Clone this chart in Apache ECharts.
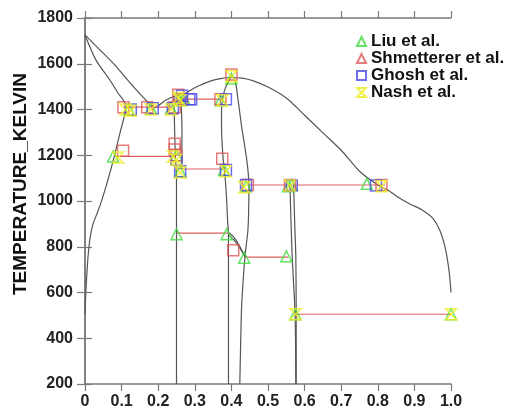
<!DOCTYPE html>
<html>
<head>
<meta charset="utf-8">
<script src="https://cdn.jsdelivr.net/npm/echarts@6/dist/echarts.min.js"></script>
<style>
  html, body { margin: 0; padding: 0; background: #fff; }
  #chart { width: 518px; height: 414px; }
</style>
</head>
<body>
<div id="chart"></div>
<script>
// Ni-Sn style phase diagram: calculated boundaries + experimental points

// axis ticks
const xTicks = [0, 0.1, 0.2, 0.3, 0.4, 0.5, 0.6, 0.7, 0.8, 0.9, 1.0];
const yTicks = [200, 400, 600, 800, 1000, 1200, 1400, 1600, 1800];

// phase boundaries [x, T]
const liquidusLeft = [[0, 1726], [0.04, 1662], [0.08, 1597], [0.12, 1522], [0.16, 1452], [0.19, 1408], [0.22, 1440], [0.25, 1462]];
const liquidusDome = [[0.25, 1462], [0.27, 1468], [0.30, 1495], [0.34, 1523], [0.37, 1535], [0.40, 1540], [0.43, 1537], [0.46, 1525],
  [0.50, 1498], [0.55, 1450], [0.60, 1375], [0.65, 1298], [0.70, 1222], [0.75, 1130], [0.80, 1070], [0.83, 1045], [0.86, 1012],
  [0.89, 985], [0.92, 962], [0.95, 925], [0.97, 870], [0.985, 790], [0.995, 690], [1.0, 600]];
const solidusNi = [[0, 1726], [0.03, 1616], [0.068, 1529], [0.09, 1472], [0.105, 1440], [0.114, 1408]];
const solvusNi = [[0.114, 1408], [0.096, 1300], [0.08, 1195], [0.064, 1100], [0.046, 1004], [0.034, 950], [0.022, 900],
  [0.014, 840], [0.009, 770], [0.005, 680], [0.002, 590], [0, 505]];
const ni3snLeft = [[0.243, 1460], [0.245, 1300], [0.247, 1195], [0.25, 1100], [0.25, 200]];
const ni3snRight = [[0.262, 1460], [0.265, 1300], [0.264, 1140]];
const ni3sn2Left = [[0.40, 1545], [0.385, 1500], [0.377, 1456], [0.373, 1400], [0.373, 1325], [0.377, 1194], [0.383, 1100],
  [0.387, 1004], [0.39, 900], [0.392, 860], [0.392, 200]];
const ni3sn2Right = [[0.40, 1545], [0.41, 1529], [0.42, 1420], [0.428, 1325], [0.442, 1179], [0.448, 1070], [0.447, 950],
  [0.445, 870], [0.437, 755], [0.43, 600], [0.427, 500], [0.423, 200]];
const ni3sn2OrderA = [[0.392, 862], [0.405, 845], [0.42, 810], [0.437, 757]];
const ni3sn2OrderB = [[0.392, 852], [0.408, 828], [0.424, 792], [0.44, 752]];
const ni3sn4Left = [[0.56, 1070], [0.563, 900], [0.566, 760], [0.574, 505], [0.576, 200]];
const ni3sn4Right = [[0.57, 1070], [0.573, 900], [0.576, 760], [0.577, 505], [0.577, 200]];

// invariant lines [xStart, xEnd, T]
const tieLines = [
  [0.104, 0.243, 1410],
  [0.264, 0.377, 1445],
  [0.085, 0.247, 1195],
  [0.25, 0.383, 1140],
  [0.448, 0.82, 1070],
  [0.25, 0.392, 860],
  [0.437, 0.555, 755],
  [0.577, 1.0, 505]
];

// experimental points
const liuData = [[0.077, 1195], [0.12, 1400], [0.18, 1405], [0.235, 1405], [0.26, 1440], [0.27, 1450], [0.37, 1440], [0.40, 1535],
  [0.25, 1200], [0.26, 1130], [0.38, 1135], [0.44, 1065], [0.555, 1065], [0.565, 1070], [0.77, 1075], [0.25, 855], [0.387, 855],
  [0.435, 752], [0.55, 758], [0.575, 505], [1.0, 505]];
const shmettererData = [[0.105, 1410], [0.17, 1410], [0.245, 1410], [0.255, 1465], [0.265, 1445], [0.37, 1445], [0.40, 1553],
  [0.104, 1220], [0.245, 1250], [0.245, 1225], [0.25, 1200], [0.375, 1185], [0.445, 1070], [0.56, 1070], [0.81, 1070], [0.405, 785]];
const ghoshData = [[0.125, 1400], [0.185, 1405], [0.24, 1405], [0.265, 1460], [0.285, 1445], [0.29, 1445], [0.385, 1445],
  [0.25, 1180], [0.26, 1130], [0.385, 1135], [0.44, 1070], [0.565, 1068], [0.795, 1068]];
const nashData = [[0.11, 1400], [0.125, 1395], [0.18, 1400], [0.235, 1400], [0.255, 1450], [0.26, 1440], [0.375, 1440],
  [0.40, 1545], [0.24, 1195], [0.25, 1180], [0.26, 1125], [0.385, 1130], [0.435, 1060], [0.56, 1068], [0.81, 1065],
  [0.575, 505], [1.0, 505], [0.09, 1190]];

const FONT = '"Liberation Sans", Arial, sans-serif';
const AXIS_COLOR = '#7a7a7a';
const hourglass = 'path://M0,0L10,0L0,10L10,10Z';

const curves = [liquidusLeft, liquidusDome, solidusNi, solvusNi, ni3snLeft, ni3snRight, ni3sn2Left, ni3sn2Right,
  ni3sn2OrderA, ni3sn2OrderB, ni3sn4Left, ni3sn4Right];

const series = [];
curves.forEach(c => {
  series.push({
    type: 'line', data: c, smooth: 0.25, showSymbol: false, silent: true, z: 2,
    lineStyle: { color: '#555', width: 1.2 }
  });
});
tieLines.forEach(t => {
  series.push({
    type: 'line', data: [[t[0], t[2]], [t[1], t[2]]], showSymbol: false, silent: true, z: 3,
    lineStyle: { color: '#e06060', width: 1.2 }
  });
});

function pointSeries(name, data, symbol, color) {
  return {
    name, type: 'scatter', data, symbol, symbolSize: 11, z: 5,
    itemStyle: { color: 'rgba(255,255,255,0)', borderColor: color, borderWidth: 1.5 }
  };
}
series.push(pointSeries('Liu et al.', liuData, 'triangle', '#3ddc3d'));
series.push(pointSeries('Shmetterer et al.', shmettererData, 'rect', '#e05a5a'));
series.push(pointSeries('Ghosh et al.', ghoshData, 'rect', '#4a4ae6'));
series.push(pointSeries('Nash et al.', nashData, hourglass, '#eeee20'));

const chart = echarts.init(document.getElementById('chart'));
chart.setOption({
  animation: false,
  backgroundColor: '#fff',
  grid: { left: 85, top: 18, width: 366, height: 366 },
  graphic: [{
    type: 'text', x: 21, y: 184, rotation: Math.PI / 2,
    style: {
      text: 'TEMPERATURE_KELVIN', align: 'center', verticalAlign: 'middle',
      font: 'bold 19px ' + FONT, fill: '#111'
    }
  }],
  legend: {
    orient: 'vertical', left: 351, top: 28, itemGap: 0, itemWidth: 9, itemHeight: 9,
    textStyle: { fontFamily: FONT, fontSize: 17, fontWeight: 'bold', color: '#111' },
    data: [
      { name: 'Liu et al.', icon: 'triangle' },
      { name: 'Shmetterer et al.', icon: 'triangle' },
      { name: 'Ghosh et al.', icon: 'rect' },
      { name: 'Nash et al.', icon: hourglass }
    ]
  },
  xAxis: [{
    type: 'value', min: xTicks[0], max: xTicks[xTicks.length - 1], interval: 0.1,
    axisLine: { lineStyle: { color: AXIS_COLOR, width: 1.5 } },
    axisTick: { length: 7, lineStyle: { color: AXIS_COLOR, width: 1.2 } },
    splitLine: { show: false },
    axisLabel: {
      margin: 10, fontFamily: FONT, fontSize: 16, fontWeight: 'bold', color: '#222',
      formatter: v => (v === 0 ? '0' : v.toFixed(1))
    }
  }, {
    type: 'value', position: 'top', min: 0, max: 1, interval: 0.1,
    axisLine: { show: true, lineStyle: { color: AXIS_COLOR, width: 1.5 } },
    axisTick: { show: true, length: 7, lineStyle: { color: AXIS_COLOR, width: 1.2 } },
    axisLabel: { show: false }, splitLine: { show: false }
  }],
  yAxis: [{
    type: 'value', min: yTicks[0], max: yTicks[yTicks.length - 1], interval: 200,
    axisLine: { show: true, lineStyle: { color: AXIS_COLOR, width: 1.5 } },
    axisTick: { show: true, length: 8, lineStyle: { color: AXIS_COLOR, width: 1.2 } },
    splitLine: { show: false },
    axisLabel: {
      margin: 12, fontFamily: FONT, fontSize: 16, fontWeight: 'bold', color: '#222',
      formatter: v => String(v)
    }
  }, {
    type: 'value', position: 'right', min: 200, max: 1800, interval: 200,
    axisLine: { show: true, lineStyle: { color: AXIS_COLOR, width: 1.5 } },
    axisTick: { show: true, length: 7, lineStyle: { color: AXIS_COLOR, width: 1.2 } },
    axisLabel: { show: false }, splitLine: { show: false }
  }],
  series
});
</script>
</body>
</html>
